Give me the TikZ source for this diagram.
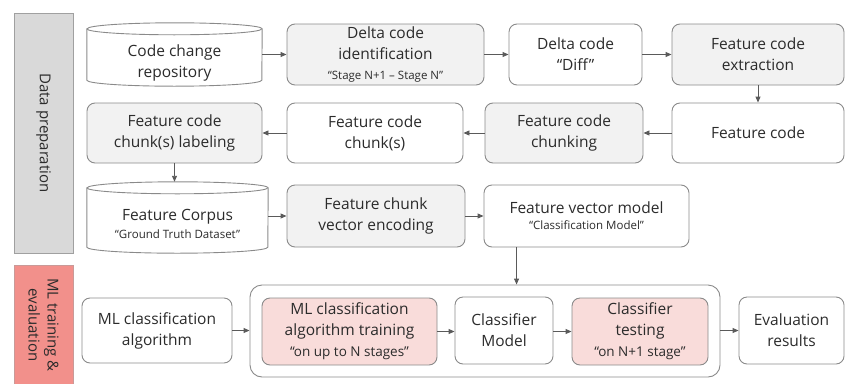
\documentclass[tikz,border=0pt]{standalone}
\usepackage{fontspec}
\setmainfont{Open Sans}
\usetikzlibrary{arrows.meta,calc}
\definecolor{edge}{HTML}{8A8A8A}
\definecolor{arrowgray}{HTML}{5A5A5A}
\definecolor{txt}{HTML}{2B2B2B}
\definecolor{lightgray}{HTML}{F2F2F2}
\definecolor{lightpink}{HTML}{F9DCDA}
\definecolor{barGray}{HTML}{D9D9D9}
\definecolor{barGrayEdge}{HTML}{A0A0A0}
\definecolor{barRed}{HTML}{F2908B}
\definecolor{barRedEdge}{HTML}{C99A98}
\newcommand\subtext[1]{{\fontsize{11.5}{14}\selectfont #1}}
% cylinder outline around a node: #1 node, #2 half width, #3 height of the cap centre above the node top
\newcommand\cylinderoutline[3]{%
  \draw[cylline] ([yshift=#3]#1.north west) -- ([yshift=6pt]#1.south west)
    arc[start angle=180,end angle=360,x radius=#2,y radius=6pt]
    -- ([yshift=#3]#1.north east)
    arc[start angle=0,end angle=180,x radius=#2,y radius=6pt] -- cycle;
  \draw[cylline] ([yshift=#3]#1.north west)
    arc[start angle=180,end angle=360,x radius=#2,y radius=6pt];
}
\begin{document}
\begin{tikzpicture}[x=1pt,y=-1pt,
  every node/.style={text=txt},
  box/.style={draw=edge,line width=0.9pt,rounded corners=8pt,align=center,inner sep=2pt,
    font=\fontsize{15.5}{21}\selectfont},
  graybox/.style={box,fill=lightgray},
  pinkbox/.style={box,fill=lightpink},
  cylbody/.style={align=center,inner sep=2pt,font=\fontsize{15.5}{21}\selectfont},
  cylline/.style={draw=edge,line width=0.9pt},
  sidebar/.style={line width=0.9pt,align=center,rotate=-90,inner sep=0pt,
    font=\fontsize{15}{19}\selectfont},
  arr/.style={draw=arrowgray,line width=0.9pt,-{Triangle[length=6pt,width=5pt]}}
]
\useasboundingbox (0,0) rectangle (845,383);

% side labels
\node[sidebar,fill=barGray,draw=barGrayEdge,minimum width=240,minimum height=59]
  (prep) at (43.5,133) {Data preparation};
\node[sidebar,fill=barRed,draw=barRedEdge,minimum width=120,minimum height=59]
  (mltr) at (43.5,325) {ML training \&\\evaluation};

% row 1
\node[cylbody,minimum width=175,minimum height=47] (repo) at (174.5,62.5) {Code change\\repository};
\cylinderoutline{repo}{87.5pt}{10pt}
\node[graybox,minimum width=197,minimum height=61] (ident) at (385.5,54.5)
  {Delta code\\identification\\[-1pt]\subtext{“Stage N+1 – Stage N”}};
\node[box,minimum width=133,minimum height=61] (diff) at (575.5,54.5) {Delta code\\“Diff”};
\node[graybox,minimum width=172,minimum height=61] (extr) at (758,54.5) {Feature code\\extraction};

% row 2
\node[graybox,minimum width=175,minimum height=60] (label) at (174.5,133) {Feature code\\chunk(s) labeling};
\node[box,minimum width=176,minimum height=60] (chunks) at (375,133) {Feature code\\chunk(s)};
\node[graybox,minimum width=158,minimum height=60] (chunking) at (564,133) {Feature code\\chunking};
\node[box,minimum width=172,minimum height=60] (fcode) at (758,133) {Feature code};

% row 3
\node[cylbody,minimum width=181,minimum height=59] (corpus) at (177.5,223.5)
  {Feature Corpus\\[-3pt]\subtext{“Ground Truth Dataset”}};
\cylinderoutline{corpus}{90.5pt}{6pt}
\coordinate (corpustop) at ([yshift=12pt]corpus.north);
\node[graybox,minimum width=178,minimum height=62] (enc) at (376,216) {Feature chunk\\vector encoding};
\node[box,minimum width=205,minimum height=62] (vecm) at (586.5,216)
  {Feature vector model\\[-5pt]\subtext{“Classification Model”}};

% row 4
\node[draw=edge,line width=0.9pt,rounded corners=12pt,minimum width=470,minimum height=92]
  (cont) at (485,331) {};
\node[box,minimum width=150,minimum height=65] (mlalg) at (157,330.5) {ML classification\\algorithm};
\node[pinkbox,minimum width=175,minimum height=67] (train) at (349.5,331.5)
  {ML classification\\algorithm training\\{\fontsize{13.5}{16}\selectfont “on up to N stages”}};
\node[box,minimum width=98,minimum height=67] (clsm) at (504,330.5) {Classifier\\Model};
\node[pinkbox,minimum width=136,minimum height=67] (test) at (640,331.5)
  {Classifier\\testing\\{\fontsize{13.5}{16}\selectfont “on N+1 stage”}};
\node[box,minimum width=105,minimum height=67] (eval) at (791.5,330.5) {Evaluation\\results};

% connectors
\draw[arr] (repo.east |- ident.west) -- (ident.west);
\draw[arr] (ident) -- (diff);
\draw[arr] (diff) -- (extr);
\draw[arr] (extr) -- (fcode);
\draw[arr] (fcode) -- (chunking);
\draw[arr] (chunking) -- (chunks);
\draw[arr] (chunks) -- (label);
\draw[arr] (label.south) -- (label.south |- corpustop);
\draw[arr] (corpus.east |- enc.west) -- (enc.west);
\draw[arr] (enc) -- (vecm);
\coordinate (vtap) at ([xshift=33pt]vecm.south west);
\draw[arr] (vtap) -- (vtap |- cont.north);
\draw[arr] (mlalg.east) -- (mlalg.east -| cont.west);
\draw[arr] (train.east) -- (clsm.west |- train.east);
\draw[arr] (clsm.east |- test.west) -- (test.west);
\draw[arr] (cont.east |- eval.west) -- (eval.west);
\end{tikzpicture}
\end{document}
